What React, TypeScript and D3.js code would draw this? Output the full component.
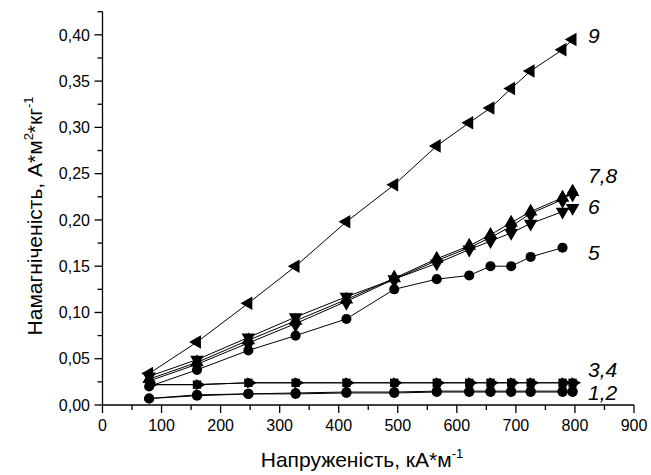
import React, { useRef, useEffect } from "react";
import * as d3 from "d3";

// field strength, kA/m
const xVals = [79, 160, 247, 327, 413, 494, 566, 621, 657, 692, 725, 779, 796];

// magnetization per sample
const s1 = [0.007, 0.010, 0.012, 0.012, 0.013, 0.013, 0.014, 0.014, 0.014, 0.014, 0.014, 0.014, 0.014];
const s2 = [0.007, 0.011, 0.012, 0.013, 0.014, 0.014, 0.015, 0.015, 0.015, 0.015, 0.015, 0.015, 0.015];
const s3 = [0.022, 0.022, 0.024, 0.024, 0.024, 0.024, 0.024, 0.024, 0.024, 0.024, 0.024, 0.024, 0.024];
const s4 = [0.022, 0.022, 0.024, 0.024, 0.024, 0.024, 0.024, 0.024, 0.024, 0.024, 0.024, 0.024, 0.024];
const s5 = [0.020, 0.038, 0.059, 0.075, 0.093, 0.125, 0.136, 0.140, 0.150, 0.150, 0.160, 0.170];
const s6 = [0.031, 0.049, 0.073, 0.095, 0.117, 0.136, 0.153, 0.168, 0.177, 0.186, 0.196, 0.209, 0.213];
const s7 = [0.028, 0.046, 0.070, 0.091, 0.114, 0.137, 0.158, 0.172, 0.184, 0.197, 0.209, 0.224, 0.230];
const s8 = [0.026, 0.044, 0.067, 0.088, 0.112, 0.136, 0.156, 0.170, 0.181, 0.193, 0.207, 0.222, 0.229];
const s9 = [0.034, 0.068, 0.110, 0.150, 0.198, 0.238, 0.280, 0.305, 0.321, 0.342, 0.361, 0.384, 0.395];

const xTicks = [0, 100, 200, 300, 400, 500, 600, 700, 800, 900];
const yTicks = [0, 0.05, 0.1, 0.15, 0.2, 0.25, 0.3, 0.35, 0.4];

const series = [
  { name: "1", values: s1, shape: "circle", rot: 0 },
  { name: "2", values: s2, shape: "circle", rot: 0 },
  { name: "4", values: s4, shape: "triangle", rot: 90 },
  { name: "3", values: s3, shape: "square", rot: 0 },
  { name: "5", values: s5, shape: "circle", rot: 0 },
  { name: "6", values: s6, shape: "triangle", rot: 180 },
  { name: "7", values: s7, shape: "triangle", rot: 0 },
  { name: "8", values: s8, shape: "diamond", rot: 0 },
  { name: "9", values: s9, shape: "triangle", rot: -90 },
];

// curve labels next to the line ends (baseline value)
const curveLabels = [
  { text: "9", v: 0.391 },
  { text: "7,8", v: 0.240 },
  { text: "6", v: 0.206 },
  { text: "5", v: 0.157 },
  { text: "3,4", v: 0.030 },
  { text: "1,2", v: 0.005 },
];

const W = 651;
const H = 475;
const FONT = "Arial, 'Liberation Sans', sans-serif";

const App = () => {
  const svgRef = useRef(null);

  useEffect(() => {
    const svg = d3.select(svgRef.current);
    svg.selectAll("*").remove();

    const x = d3.scaleLinear().domain([0, 900]).range([102.5, 634]);
    const y = d3.scaleLinear().domain([0, 0.425]).range([405, 11.7]);
    const fmt = (d) => d3.format(".2f")(d).replace(".", ",");

    // ticks and axis lines
    const g = svg.append("g").attr("stroke", "#000").attr("stroke-width", 1.3);
    d3.range(50, 900, 100).forEach((v) => {
      g.append("line").attr("x1", x(v)).attr("x2", x(v)).attr("y1", 405).attr("y2", 410);
    });
    d3.range(0.025, 0.43, 0.05).forEach((v) => {
      g.append("line").attr("x1", 102.5).attr("x2", 97.5).attr("y1", y(v)).attr("y2", y(v));
    });
    xTicks.forEach((v) => {
      g.append("line").attr("x1", x(v)).attr("x2", x(v)).attr("y1", 405).attr("y2", 413);
    });
    yTicks.forEach((v) => {
      g.append("line").attr("x1", 102.5).attr("x2", 94.5).attr("y1", y(v)).attr("y2", y(v));
    });
    g.append("line").attr("x1", 102.5).attr("x2", 102.5).attr("y1", y(0.425)).attr("y2", 405);
    g.append("line").attr("x1", 102.5).attr("x2", 634).attr("y1", 405).attr("y2", 405);

    const t = svg.append("g").attr("font-family", FONT).attr("font-size", 16).attr("fill", "#000");
    xTicks.forEach((v) => {
      t.append("text").attr("x", x(v)).attr("y", 431).attr("text-anchor", "middle").text(v);
    });
    yTicks.forEach((v) => {
      t.append("text").attr("x", 90).attr("y", y(v) + 5.7).attr("text-anchor", "end").text(fmt(v));
    });

    // lines and markers
    const line = d3.line().x((d) => x(d[0])).y((d) => y(d[1]));
    const shapes = {
      circle: d3.symbolCircle,
      square: d3.symbolSquare,
      triangle: d3.symbolTriangle,
      diamond: d3.symbolDiamond,
    };
    const sizes = { circle: 80, square: 70, triangle: 80, diamond: 100 };
    series.forEach((s) => {
      const pts = s.values.map((v, i) => [xVals[i], v]);
      svg.append("path").attr("d", line(pts)).attr("fill", "none").attr("stroke", "#000").attr("stroke-width", 1);
      const size = s.name === "4" ? 55 : sizes[s.shape];
      const sym = d3.symbol().type(shapes[s.shape]).size(size);
      svg.append("g").selectAll("path").data(pts).join("path")
        .attr("d", sym)
        .attr("transform", (d) => `translate(${x(d[0]) + (s.name === "4" ? 2 : 0)},${y(d[1])}) rotate(${s.rot})`)
        .attr("fill", "#000");
    });

    const lab = svg.append("g").attr("font-family", FONT).attr("font-size", 21)
      .attr("font-style", "italic").attr("fill", "#000");
    curveLabels.forEach((c) => {
      lab.append("text").attr("x", 588).attr("y", y(c.v)).text(c.text);
    });

    // axis titles
    const xt = svg.append("text").attr("x", 362).attr("y", 467).attr("text-anchor", "middle")
      .attr("font-family", FONT).attr("font-size", 21).attr("fill", "#000");
    xt.append("tspan").text("Напруженість, кА*м");
    xt.append("tspan").attr("dy", -9).attr("font-size", 13).text("-1");

    const yt = svg.append("text").attr("transform", "translate(42,216) rotate(-90)")
      .attr("text-anchor", "middle").attr("font-family", FONT).attr("font-size", 21).attr("fill", "#000");
    yt.append("tspan").text("Намагніченість, А*м");
    yt.append("tspan").attr("dy", -9).attr("font-size", 13).text("2");
    yt.append("tspan").attr("dy", 9).text("*кг");
    yt.append("tspan").attr("dy", -9).attr("font-size", 13).text("-1");
  }, []);

  return (
    <svg
      ref={svgRef}
      width={W}
      height={H}
      style={{ position: "absolute", left: 0, top: 0, background: "#fff" }}
    />
  );
};

export default App;
